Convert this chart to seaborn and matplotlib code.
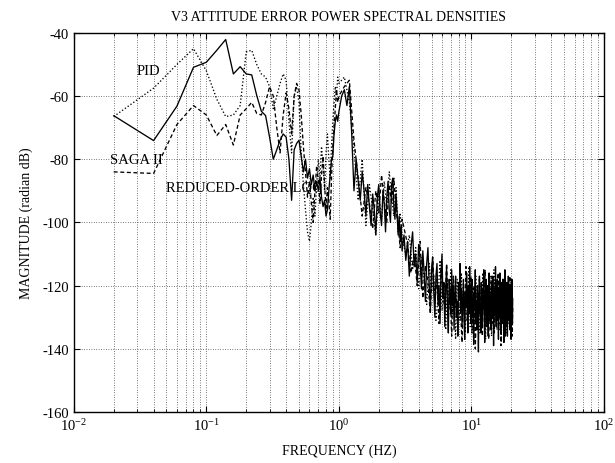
import numpy as np
import pandas as pd
import matplotlib
matplotlib.use("Agg")
import matplotlib.pyplot as plt
import seaborn as sns
from matplotlib.ticker import LogLocator, NullFormatter

# ===================== data =====================
# low band: 0.02 .. 1.00 Hz, step 0.02
F_LOW = np.round(np.arange(1, 51) * 0.02, 2)

LQG_LOW = [-66.2, -74.1, -63.2, -50.9, -49.3, -45.5, -42.1, -53.0, -50.7, -53.0,
           -53.3, -59.8, -64.8, -66.2, -73.0, -80.0, -77.0, -74.0, -72.0, -73.0,
           -80.0, -93.0, -77.0, -75.0, -74.0, -79.0, -84.0, -80.0, -86.0, -83.0,
           -88.0, -85.0, -90.0, -87.0, -90.0, -86.0, -92.0, -95.0, -93.0, -98.0,
           -96.0, -90.0, -85.0, -80.0, -79.0, -72.0, -68.0, -66.0, -68.0, -65.0]
PID_LOW = [-66.5, -57.5, -50.0, -45.0, -52.0, -61.0, -66.5, -66.0, -63.0, -46.0,
           -45.5, -50.0, -53.0, -54.0, -57.0, -64.0, -60.0, -56.0, -53.0, -55.0,
           -68.0, -78.0, -60.0, -57.0, -62.0, -78.0, -88.0, -96.0, -103.0, -106.0,
           -100.0, -92.0, -98.0, -88.0, -80.0, -86.0, -76.0, -82.0, -90.0, -78.0,
           -72.0, -80.0, -86.0, -76.0, -68.0, -62.0, -57.0, -60.0, -54.0, -56.0]
SAGA_LOW = [-84.0, -84.5, -69.0, -63.0, -66.0, -72.5, -69.0, -75.5, -66.0, -64.0,
            -62.0, -65.5, -66.0, -62.0, -57.0, -60.0, -70.0, -78.0, -66.0, -59.0,
            -64.0, -72.0, -60.0, -56.0, -58.0, -66.0, -76.0, -84.0, -92.0, -87.0,
            -94.0, -100.0, -90.0, -82.0, -87.0, -94.0, -85.0, -79.0, -88.0, -96.0,
            -89.0, -93.0, -99.0, -86.0, -76.0, -70.0, -64.0, -58.0, -62.0, -60.0]

# mid band
F_LQG_MID = np.round(1.0 + np.arange(1, 41) * 0.05, 2)          # 1.05 .. 3.00
LQG_MID = [-60, -58, -63, -57, -72, -90, -80, -87, -93, -84,
           -90, -98, -88, -95, -101, -91, -96, -104, -92, -88,
           -97, -101, -90, -94, -103, -92, -87, -96, -100, -88,
           -86, -95, -99, -91, -97, -104, -98, -106, -101, -109]
F_MID = np.round(1.0 + np.arange(1, 21) * 0.1, 1)               # 1.1 .. 3.0
PID_MID = [-54, -62, -77, -93, -80, -101, -88, -96, -104, -91,
           -99, -87, -95, -84, -92, -98, -89, -103, -97, -105]
SAGA_MID = [-57, -55, -74, -86, -98, -89, -94, -102, -90, -97,
            -85, -93, -100, -88, -94, -86, -96, -101, -108, -99]

# high band (noise floor)
F_LQG_HIGH = np.round(3.0 + np.arange(1, 176) * 0.1, 1)         # 3.1 .. 20.5
LQG_HIGH = [-104, -112, -106, -117, -108, -103, -114, -110, -119, -107,
            -112, -121, -109, -116, -125, -113, -108, -119, -128, -115,
            -111, -122, -130, -117, -113, -126, -120, -132, -116, -110,
            -124, -119, -133, -121, -114, -127, -135, -118, -123, -129,
            -115, -126, -120, -134, -122, -117, -130, -125, -136, -119,
            -124, -113, -128, -121, -133, -126, -118, -131, -137, -122,
            -127, -116, -123, -135, -120, -129, -114, -126, -132, -121,
            -118, -130, -124, -138, -122, -127, -115, -131, -125, -134,
            -120, -128, -141, -123, -117, -129, -126, -135, -119, -124,
            -132, -121, -127, -115, -130, -138, -123, -126, -118, -133,
            -125, -129, -120, -136, -124, -116, -128, -131, -122, -127,
            -134, -119, -126, -130, -117, -125, -139, -123, -128, -121,
            -129, -114, -127, -133, -122, -126, -118, -131, -124, -137,
            -121, -128, -125, -116, -130, -123, -135, -127, -119, -126,
            -132, -124, -118, -129, -126, -138, -122, -127, -115, -130,
            -125, -121, -133, -127, -119, -128, -136, -124, -130, -117,
            -126, -131, -122, -128, -134, -120, -127, -125, -137, -123,
            -129, -118, -126, -132, -124]
F_PID_HIGH = np.round(3.0 + np.arange(1, 88) * 0.2, 1)          # 3.2 .. 20.4
PID_HIGH = [-110, -104, -115, -108, -121, -111, -118, -126, -113, -122,
            -117, -131, -124, -112, -128, -120, -134, -119, -126, -115,
            -129, -123, -137, -118, -125, -131, -116, -127, -122, -135,
            -120, -128, -114, -133, -126, -121, -139, -124, -117, -130,
            -127, -135, -119, -125, -131, -116, -128, -123, -137, -121,
            -126, -132, -118, -129, -124, -136, -120, -127, -115, -131,
            -123, -128, -134, -119, -126, -130, -117, -125, -138, -122,
            -129, -121, -133, -125, -118, -131, -127, -135, -120, -126,
            -132, -124, -119, -130, -127, -121, -128]
F_SAGA_HIGH = np.round(3.1 + np.arange(1, 88) * 0.2, 1)         # 3.3 .. 20.5
SAGA_HIGH = [-107, -116, -110, -120, -106, -124, -114, -119, -129, -111,
             -125, -118, -132, -115, -122, -128, -113, -130, -121, -136,
             -117, -127, -124, -133, -119, -129, -138, -122, -126, -114,
             -131, -123, -128, -117, -135, -125, -120, -140, -127, -122,
             -133, -118, -129, -124, -136, -121, -127, -115, -131, -125,
             -120, -137, -126, -129, -117, -132, -124, -128, -135, -119,
             -127, -122, -130, -116, -134, -125, -121, -139, -126, -129,
             -118, -131, -124, -127, -136, -120, -128, -133, -122, -126,
             -130, -117, -134, -125, -121, -136, -127]

Y_TICKS = [-160, -140, -120, -100, -80, -60, -40]

series = {
    "REDUCED-ORDER LQG": (np.concatenate([F_LOW, F_LQG_MID, F_LQG_HIGH]),
                          LQG_LOW + LQG_MID + LQG_HIGH, "-"),
    "PID": (np.concatenate([F_LOW, F_MID, F_PID_HIGH]),
            PID_LOW + PID_MID + PID_HIGH, (0, (1, 1.6))),
    "SAGA II": (np.concatenate([F_LOW, F_MID, F_SAGA_HIGH]),
                SAGA_LOW + SAGA_MID + SAGA_HIGH, (0, (3, 2))),
}

# ===================== style =====================
sns.set_style("ticks")
plt.rcParams["font.family"] = ["Liberation Serif", "DejaVu Serif"]
plt.rcParams["mathtext.fontset"] = "stix"
plt.rcParams["axes.unicode_minus"] = False
plt.rcParams["text.color"] = "black"
plt.rcParams["axes.labelcolor"] = "black"
plt.rcParams["xtick.color"] = "black"
plt.rcParams["ytick.color"] = "black"

fig = plt.figure(figsize=(6.15, 4.64), dpi=100)
ax = fig.add_axes([0.120, 0.110, 0.862, 0.817])

for name, (f, v, ls) in series.items():
    df = pd.DataFrame({"freq": f, "mag": v})
    sns.lineplot(data=df, x="freq", y="mag", ax=ax, color="black",
                 linewidth=0.95, linestyle=ls, estimator=None, sort=False)

ax.set_xscale("log")
ax.set_xlim(1e-2, 1e2)
ax.set_ylim(-160, -40)
ax.set_yticks(Y_TICKS)
ax.xaxis.set_major_locator(LogLocator(base=10, numticks=10))
ax.xaxis.set_minor_locator(LogLocator(base=10, subs=np.arange(2, 10), numticks=20))
ax.xaxis.set_minor_formatter(NullFormatter())

ax.grid(True, which="both", axis="x", color="black", linestyle=(0, (1, 2.5)), linewidth=0.5)
ax.grid(True, which="major", axis="y", color="black", linestyle=(0, (1, 2.5)), linewidth=0.5)

ax.tick_params(which="both", direction="in", top=True, right=True, labelsize=10.5)
ax.tick_params(which="major", length=4)
ax.tick_params(which="minor", length=2.5)
for s in ax.spines.values():
    s.set_linewidth(1.0)
    s.set_color("black")

ax.set_title("V3 ATTITUDE ERROR POWER SPECTRAL DENSITIES", fontsize=10, pad=9)
ax.set_xlabel("FREQUENCY (HZ)", fontsize=10, labelpad=8)
ax.set_ylabel("MAGNITUDE (radian dB)", fontsize=10, labelpad=7)

ax.text(0.030, -52, "PID", fontsize=10.5, va="center", ha="left")
ax.text(0.0187, -80, "SAGA II", fontsize=10.5, va="center", ha="left")
ax.text(0.0495, -88.7, "REDUCED-ORDER LQG", fontsize=10.5, va="center", ha="left")

plt.savefig("out.png", dpi=100)
plt.close()
